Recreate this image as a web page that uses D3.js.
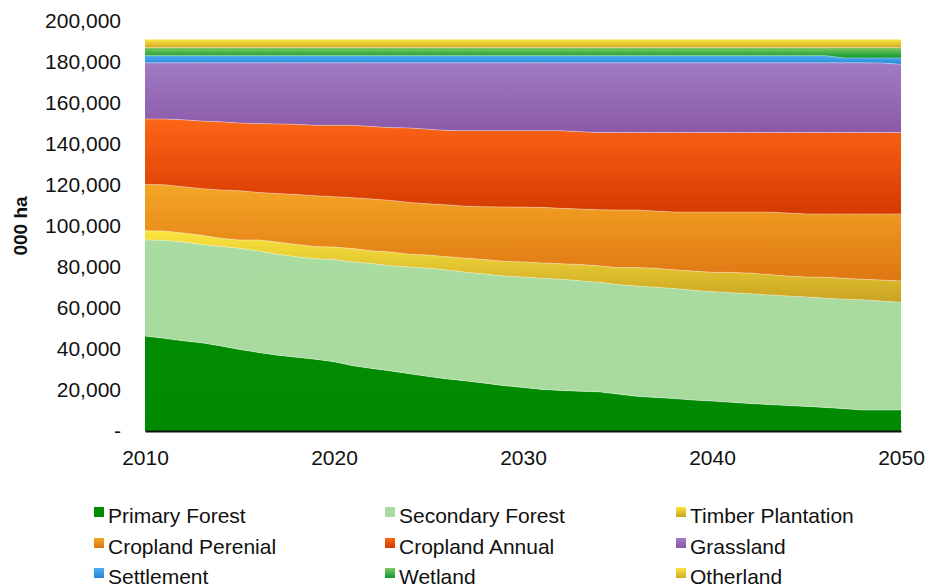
<!DOCTYPE html>
<html>
<head>
<meta charset="utf-8">
<script src="https://cdn.jsdelivr.net/npm/d3@7"></script>
<style>
  html, body { margin: 0; padding: 0; background: #fff; }
  svg { display: block; font-family: "Liberation Sans", Arial, Helvetica, sans-serif; }
</style>
</head>
<body>
<svg id="chart" width="928" height="587"></svg>
<script>
const years = d3.range(2010, 2051);

const primaryForest = [46300,45200,44000,43000,41500,39800,38300,37000,36000,35000,33800,31800,30500,29300,27900,26600,25400,24400,23300,22100,21200,20300,19800,19400,19100,18000,16900,16400,15800,15100,14600,14000,13400,12900,12400,12000,11500,10900,10200,10200,10200];
const secondaryForest = [46900,47800,48200,48000,48500,49400,49500,49200,49000,49000,49800,50700,51200,51300,52100,52800,53100,53000,53300,53500,53900,54200,54200,53900,53500,53500,53800,53700,53700,53500,53400,53500,53600,53500,53500,53400,53300,53400,53800,53200,52600];
const timberPlantation = [4500,4600,4400,4500,4000,4000,5400,6000,6000,6000,6100,6500,6200,6700,6200,6400,6500,6900,7000,7200,7400,7500,7600,7900,8000,8200,9000,9300,9100,9400,9400,9900,10000,9900,9700,9700,10200,10200,10000,10200,10400];
const croplandPerenial = [22600,22500,22600,22700,23600,24000,23200,23600,24400,24800,24600,24800,25300,25200,25300,25000,25300,25300,25800,26500,26700,27100,27000,27100,27300,28100,28100,27900,28200,28800,29400,29400,29800,30500,30700,30800,30900,31400,31900,32300,32700];
const croplandAnnual = [31900,32100,32600,33000,33200,33000,33600,34000,34200,34300,34800,35300,35300,35500,36300,36400,36300,36900,37100,37200,37300,37400,37900,37700,37700,37800,37800,38300,38800,38800,38800,38800,38800,38800,39300,39700,39700,39700,39700,39700,39700];
const grassland = [27400,27400,27800,28400,28800,29400,29600,29800,30000,30500,30500,30500,31100,31600,31800,32400,33000,33100,33100,33100,33100,33100,33100,33600,34000,34000,34000,34000,34000,34000,34000,34000,34000,34000,34000,34000,34000,34000,34000,33900,33300];
const settlement = [3500,3500,3500,3500,3500,3500,3500,3500,3500,3500,3500,3500,3500,3500,3500,3500,3500,3500,3500,3500,3500,3500,3500,3500,3500,3500,3500,3500,3500,3500,3500,3500,3500,3500,3500,3500,3500,2400,2400,2500,3100];
const wetland = [3900,3900,3900,3900,3900,3900,3900,3900,3900,3900,3900,3900,3900,3900,3900,3900,3900,3900,3900,3900,3900,3900,3900,3900,3900,3900,3900,3900,3900,3900,3900,3900,3900,3900,3900,3900,3900,5000,5000,5000,5000];
const otherland = [4100,4100,4100,4100,4100,4100,4100,4100,4100,4100,4100,4100,4100,4100,4100,4100,4100,4100,4100,4100,4100,4100,4100,4100,4100,4100,4100,4100,4100,4100,4100,4100,4100,4100,4100,4100,4100,4100,4100,4100,4100];

const categories = ["Primary Forest","Secondary Forest","Timber Plantation","Cropland Perenial","Cropland Annual","Grassland","Settlement","Wetland","Otherland"];
const seriesValues = [primaryForest, secondaryForest, timberPlantation, croplandPerenial, croplandAnnual, grassland, settlement, wetland, otherland];
const yTicks = [0,20000,40000,60000,80000,100000,120000,140000,160000,180000,200000];
const xTicks = [2010,2020,2030,2040,2050];

// gradient colours [top, bottom]
const colors = [
  ["#008c00","#008a00"],
  ["#a9dca0","#a8da9e"],
  ["#fae63e","#c9a222"],
  ["#f4a626","#df7612"],
  ["#fc6616","#d43a00"],
  ["#a07cc4","#8a58a8"],
  ["#4aaef2","#2886d6"],
  ["#7cca5c","#0e9636"],
  ["#fce640","#d2aa26"]
];

const svg = d3.select("#chart");
const margin = {left: 145, right: 27, top: 21, bottom: 156};
const W = 928, H = 587;

const table = years.map((yr, i) => {
  const row = {year: yr};
  categories.forEach((c, k) => row[c] = seriesValues[k][i]);
  return row;
});

const x = d3.scaleLinear().domain([2010, 2050]).range([margin.left, W - margin.right]);
const y = d3.scaleLinear().domain([0, 200000]).range([H - margin.bottom, margin.top]);

const stack = d3.stack().keys(categories);
const layers = stack(table);

const defs = svg.append("defs");
categories.forEach((c, k) => {
  const g = defs.append("linearGradient").attr("id", "grad" + k)
    .attr("x1", 0).attr("y1", 0).attr("x2", 0).attr("y2", 1);
  g.append("stop").attr("offset", "0%").attr("stop-color", colors[k][0]);
  g.append("stop").attr("offset", "100%").attr("stop-color", colors[k][1]);
});

const area = d3.area()
  .x(d => x(d.data.year))
  .y0(d => y(d[0]))
  .y1(d => y(d[1]));

svg.append("g").selectAll("path").data(layers).join("path")
  .attr("d", area)
  .attr("fill", (d, k) => `url(#grad${k})`);

const topLine = d3.line().x(d => x(d.data.year)).y(d => y(d[1]));
svg.append("g").selectAll("path").data(layers).join("path")
  .attr("d", topLine)
  .attr("fill", "none")
  .attr("stroke", "rgba(255,255,255,0.45)")
  .attr("stroke-width", 0.8);

// Y axis
const yAxis = d3.axisLeft(y).tickValues(yTicks).tickSize(0).tickPadding(24)
  .tickFormat(v => v === 0 ? "-" : d3.format(",")(v));
const yg = svg.append("g").attr("transform", `translate(${margin.left},0)`).call(yAxis);
yg.select(".domain").remove();
yg.selectAll("text").attr("font-size", 21).attr("fill", "#111")
  .attr("font-family", '"Liberation Sans", Arial, sans-serif');

// X axis
const xAxis = d3.axisBottom(x).tickValues(xTicks).tickSize(0).tickPadding(19).tickFormat(d3.format("d"));
const xg = svg.append("g").attr("transform", `translate(0,${y(0)})`).call(xAxis);
xg.select(".domain").attr("stroke", "#111").attr("stroke-width", 2.2);
xg.selectAll("text").attr("font-size", 21).attr("fill", "#111")
  .attr("font-family", '"Liberation Sans", Arial, sans-serif');

// Y title
svg.append("text")
  .attr("transform", `translate(27,${y(100000)}) rotate(-90)`)
  .attr("text-anchor", "middle")
  .attr("font-size", 19).attr("font-weight", "bold").attr("fill", "#111")
  .text("000 ha");

// Legend
const colX = [94, 385, 676];
const rowY = [507, 538, 568];
const leg = svg.append("g");
categories.forEach((c, k) => {
  const col = k % 3, row = Math.floor(k / 3);
  const g = leg.append("g").attr("transform", `translate(${colX[col]},${rowY[row]})`);
  g.append("rect").attr("width", 10).attr("height", 10).attr("fill", `url(#grad${k})`);
  g.append("text").attr("x", 14).attr("y", 16).attr("font-size", 21).attr("fill", "#111").text(c);
});
</script>
</body>
</html>
